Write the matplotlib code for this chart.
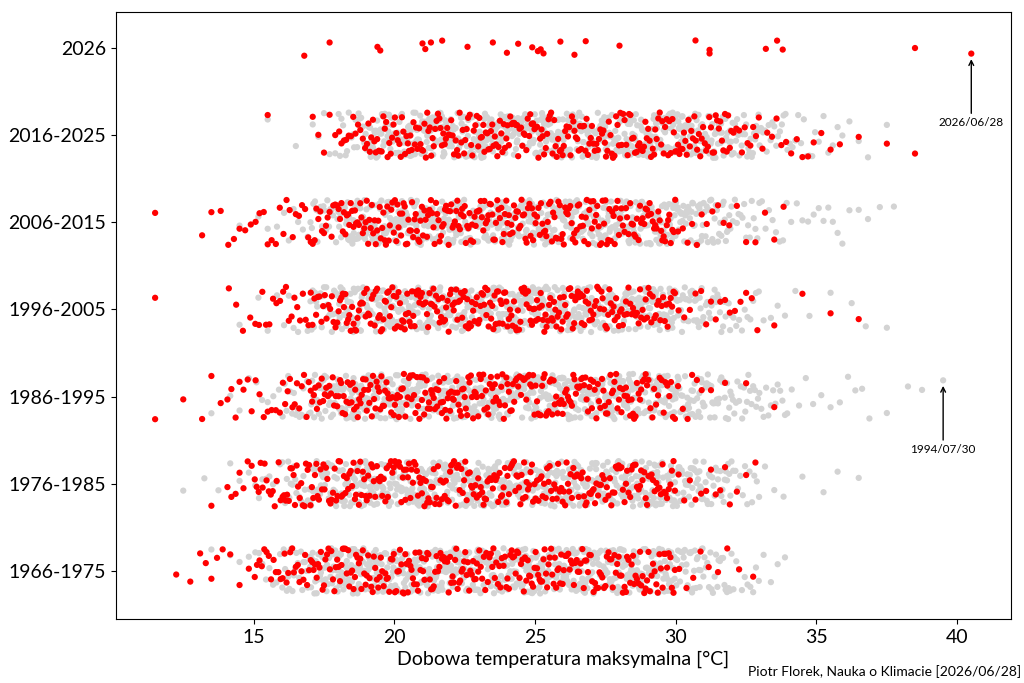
import numpy as np
import pandas as pd
import matplotlib
matplotlib.use('Agg')
import matplotlib.pyplot as plt
import seaborn as sns

plt.rcParams['font.family'] = ['Lato', 'DejaVu Sans']

periods = ['2026', '2016-2025', '2006-2015', '1996-2005', '1986-1995', '1976-1985', '1966-1975']

# dolne granice przedziałów 1 °C: 11, 12, ..., 40
bin_lo = list(range(11, 41))

# liczba dni w każdym przedziale (czerwiec = czerwone, pozostałe = szare)
#             11 12 13 14 15 16 17 18 19 20 21 22 23 24 25 26 27 28 29 30 31 32 33 34 35 36 37 38 39 40
june_1966 = [0, 2, 5, 3, 12, 15, 19, 21, 20, 22, 21, 22, 20, 21, 22, 20, 19, 20, 18, 4, 3, 2, 0, 0, 0, 0, 0, 0, 0, 0]
rest_1966 = [0, 0, 1, 3, 8, 20, 35, 44, 46, 45, 47, 46, 45, 44, 46, 45, 43, 44, 40, 30, 20, 10, 4, 0, 0, 0, 0, 0, 0, 0]
june_1976 = [0, 0, 1, 7, 14, 18, 20, 21, 20, 22, 21, 20, 21, 22, 20, 21, 19, 20, 18, 5, 6, 3, 0, 0, 0, 0, 0, 0, 0, 0]
rest_1976 = [0, 1, 2, 3, 8, 20, 35, 44, 45, 46, 45, 47, 46, 45, 44, 46, 44, 45, 43, 35, 25, 12, 3, 1, 2, 1, 0, 0, 0, 0]
june_1986 = [1, 1, 3, 7, 7, 12, 18, 22, 23, 22, 24, 23, 22, 21, 22, 21, 20, 20, 15, 6, 2, 1, 1, 0, 0, 0, 0, 0, 0, 0]
rest_1986 = [0, 0, 1, 3, 5, 15, 30, 41, 42, 43, 42, 44, 43, 42, 41, 42, 42, 41, 40, 35, 25, 18, 12, 4, 3, 4, 1, 2, 1, 0]
june_1996 = [1, 0, 0, 4, 8, 10, 16, 21, 22, 23, 22, 23, 24, 22, 23, 22, 21, 20, 19, 5, 6, 5, 1, 1, 1, 1, 0, 0, 0, 0]
rest_1996 = [0, 0, 0, 1, 3, 6, 25, 40, 42, 43, 42, 44, 43, 42, 42, 41, 42, 41, 38, 30, 20, 10, 4, 2, 1, 2, 1, 0, 0, 0]
june_2006 = [1, 0, 3, 5, 7, 9, 15, 21, 22, 23, 22, 23, 22, 22, 21, 22, 21, 20, 20, 6, 5, 3, 3, 0, 0, 0, 0, 0, 0, 0]
rest_2006 = [0, 0, 0, 1, 3, 6, 20, 40, 42, 43, 42, 43, 42, 42, 43, 42, 41, 42, 40, 35, 25, 15, 8, 5, 6, 3, 2, 0, 0, 0]
june_2016 = [0, 0, 0, 0, 1, 0, 5, 12, 19, 20, 21, 20, 22, 21, 20, 21, 20, 19, 20, 19, 18, 10, 6, 5, 3, 1, 1, 1, 0, 0]
rest_2016 = [0, 0, 0, 0, 1, 1, 5, 20, 40, 42, 43, 42, 43, 42, 42, 43, 42, 42, 41, 40, 35, 25, 15, 10, 6, 3, 1, 0, 0, 0]

# czerwiec 2026 (do 28.06), odczyty dzienne
june_2026 = [16.8, 17.7, 19.4, 19.5, 21.0, 21.1, 21.3, 21.7, 22.6, 23.5, 24.0, 24.4, 24.9, 25.1,
             25.2, 25.3, 25.9, 26.4, 26.8, 28.0, 30.7, 31.2, 31.2, 33.2, 33.6, 33.8, 38.5, 40.5]

decades = {
    '1966-1975': (june_1966, rest_1966),
    '1976-1985': (june_1976, rest_1976),
    '1986-1995': (june_1986, rest_1986),
    '1996-2005': (june_1996, rest_1996),
    '2006-2015': (june_2006, rest_2006),
    '2016-2025': (june_2016, rest_2016),
}

# rekordy: (etykieta, temperatura, indeks okresu)
records = [('2026/06/28', 40.5, 0), ('1994/07/30', 39.5, 4)]


def spread(counts):
    vals = []
    for lo, n in zip(bin_lo, counts):
        for k in range(n):
            vals.append(round(lo + (k + 0.5) / n, 2))
    return vals


rows = []
for period, (june, rest) in decades.items():
    for t in spread(rest):
        rows.append((t, period, 'inne'))
    for t in spread(june):
        rows.append((t, period, 'czerwiec'))
df_dec = pd.DataFrame(rows, columns=['temp', 'period', 'kind'])
df_now = pd.DataFrame({'temp': june_2026, 'period': '2026', 'kind': 'czerwiec'})

pal = {'inne': 'lightgray', 'czerwiec': 'red'}

fig = plt.figure(figsize=(10.24, 6.83), dpi=100)
ax = fig.add_axes([0.113, 0.094, 0.874, 0.888])


def draw(seed):
    ax.clear()
    np.random.seed(seed)
    sns.stripplot(data=df_dec, x='temp', y='period', order=periods, hue='kind',
                  hue_order=['inne', 'czerwiec'], palette=pal, jitter=0.26, size=4.5,
                  linewidth=0, legend=False, ax=ax)
    sns.stripplot(data=df_now, x='temp', y='period', order=periods, hue='kind',
                  hue_order=['inne', 'czerwiec'], palette=pal, jitter=0.09, size=4.5,
                  linewidth=0, legend=False, ax=ax)
    pts = np.vstack([c.get_offsets() for c in ax.collections if len(c.get_offsets())])
    found = []
    for label, x, row in records:
        d = np.abs(pts[:, 0] - x) * 10 + np.abs(pts[:, 1] - row)
        found.append(pts[np.argmin(d)])
    return found


# jitter tak, aby rekord 1994 leżał w górnej części pasa, a 2026 nieco poniżej osi
for seed in range(400):
    found = draw(seed)
    if found[1][1] - 4 < -0.15 and 0.03 < found[0][1] < 0.1:
        break

ax.set_xlim(10.1, 41.9)
ax.set_ylim(6.55, -0.41)
ax.set_ylabel('')
ax.set_xlabel('Dobowa temperatura maksymalna [°C]', fontsize=14)
ax.tick_params(labelsize=14)
for s in ax.spines.values():
    s.set_visible(True)

for (label, x, row), p in zip(records, found):
    ax.annotate(label, xy=(p[0], p[1]), xytext=(0, -46), textcoords='offset points',
                ha='center', va='top', fontsize=8.5,
                arrowprops=dict(arrowstyle='->', color='black', lw=1, shrinkA=1, shrinkB=4))

fig.text(0.730, 0.008, 'Piotr Florek, Nauka o Klimacie [2026/06/28]', fontsize=10,
         ha='left', va='bottom')

fig.savefig('out.png', dpi=100)
